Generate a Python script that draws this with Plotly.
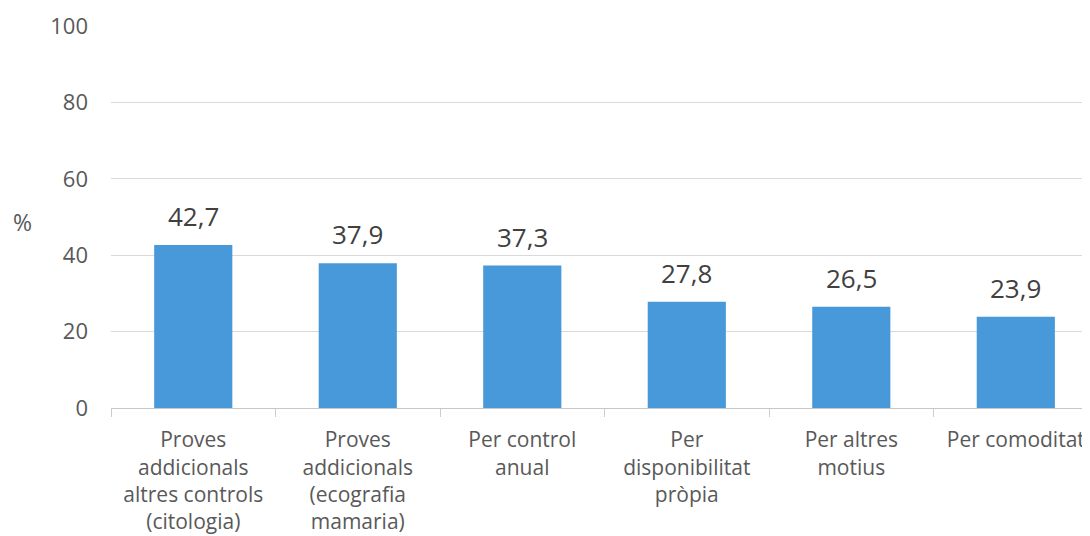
import plotly.graph_objects as go

categories = [
    "Proves<br>addicionals<br>altres controls<br>(citologia)",
    "Proves<br>addicionals<br>(ecografia<br>mamaria)",
    "Per control<br>anual",
    "Per<br>disponibilitat<br>pròpia",
    "Per altres<br>motius",
    "Per comoditat",
]
values = [42.7, 37.9, 37.3, 27.8, 26.5, 23.9]
value_labels = ["42,7", "37,9", "37,3", "27,8", "26,5", "23,9"]
y_ticks = [0, 20, 40, 60, 80, 100]

FONT = "Open Sans"

fig = go.Figure()
fig.add_trace(go.Bar(
    x=categories, y=values,
    marker=dict(color="#4899d9", line=dict(width=0)),
    width=0.475,
    hoverinfo="skip",
))
for c, v, t in zip(categories, values, value_labels):
    fig.add_annotation(x=c, y=v, text=t, showarrow=False, yanchor="bottom",
                       yshift=9, font=dict(family=FONT, size=26, color="#404040"))

fig.add_annotation(xref="paper", yref="paper", x=-0.0909, y=0.487, text="%",
                   showarrow=False, xanchor="center", yanchor="middle",
                   font=dict(family=FONT, size=23, color="#595959"))

fig.update_layout(
    width=1082, height=528,
    margin=dict(l=103, r=0, t=18, b=128),
    paper_bgcolor="white", plot_bgcolor="white",
    showlegend=False,
    font=dict(family=FONT, size=21, color="#595959"),
    xaxis=dict(
        type="category", range=[-0.5, 5.451],
        tickson="boundaries", ticks="outside", ticklen=8, tickcolor="#cccccc",
        showline=True, linecolor="#c8c8c8", linewidth=1,
        showgrid=False,
        ticklabelstandoff=13,
        tickfont=dict(family=FONT, size=21, color="#595959"),
    ),
    yaxis=dict(
        range=[0, 100], tickvals=y_ticks,
        showgrid=True, gridcolor="#d9d9d9", gridwidth=1,
        zeroline=False, showline=False, ticks="",
        ticklabelstandoff=22,
        tickfont=dict(family=FONT, size=22, color="#595959"),
    ),
)

fig.write_html("out.html")
